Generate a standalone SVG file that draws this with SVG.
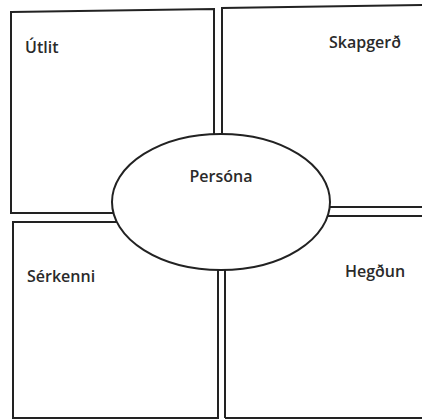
<svg xmlns="http://www.w3.org/2000/svg" width="422" height="420" viewBox="0 0 422 420">
<style>
.box{fill:none;stroke:#222;stroke-width:2;stroke-linejoin:miter}
.hub{fill:#fff;stroke:#222;stroke-width:2}
.lbl{font-family:"Open Sans","Noto Sans",sans-serif;font-size:16px;font-weight:600;fill:#2a2a2a}
</style>
<rect width="422" height="420" fill="#fff"/>
<g id="utlit">
<path class="box" d="M11,12 L214,9 L214,213 L11,213 Z"/>
<text class="lbl" x="25" y="53">Útlit</text>
</g>
<g id="skapgerd">
<path class="box" d="M222,207 L222,8 L424,5 M424,207 L222,207"/>
<text class="lbl" x="329" y="48">Skapgerð</text>
</g>
<g id="serkenni">
<path class="box" d="M13,418 L13,222 L218,222 L218,418 Z"/>
<text class="lbl" x="27" y="282">Sérkenni</text>
</g>
<g id="hegdun">
<path class="box" d="M225,418 L225,216 L424,216 M424,418 L225,418"/>
<text class="lbl" x="345" y="277">Hegðun</text>
</g>
<g id="connectors"></g>
<g id="persona">
<ellipse class="hub" cx="221" cy="202" rx="109" ry="68"/>
<text class="lbl" x="221" y="182" text-anchor="middle">Persóna</text>
</g>
</svg>
